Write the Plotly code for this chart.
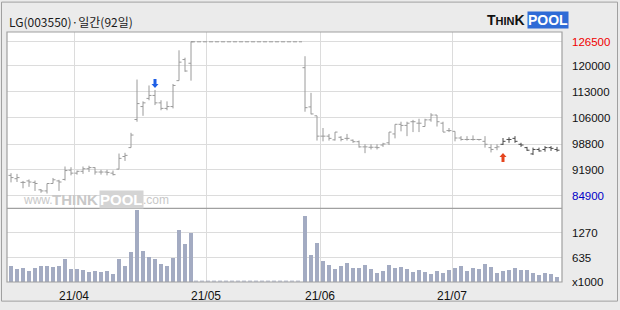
import plotly.graph_objects as go

# ---------------- data ----------------
N = 92
open_ = [90400, 89500, 88500, 88900, 88500, 86500, 86200, 88200, 88900, 89300,
         91800, 91000, 91500, 92200, 92500, 91300, 91300, 91000, 92100, 95500,
         97900, 105500, 109000, 111200, 112000, 110000, 108500, 109000, 116000, 121700,
         120700] + [None] * 18 + [
         119500, 108900, 106500, 101000, 101000, 100000, 100700, 100400, 99900, 99500,
         98100, 98000, 98000, 98600, 99200, 101600, 104200, 103900, 104900, 104500,
         103600, 105400, 106700, 104500, 102500, 102300, 100500, 100100, 100100, 100100,
         99600, 97900, 97900, 98800, 100100, 100400, 98800, 97900, 96200, 97400,
         97400, 97900, 97400]
high = [91000, 90800, 88900, 89300, 89000, 86700, 88200, 89700, 89200, 92800,
        92600, 91700, 92800, 93000, 92600, 91900, 91900, 91700, 96300, 96500,
        101900, 116300, 110400, 114700, 113500, 110700, 110400, 115100, 124200, 122200,
        126500] + [None] * 18 + [
        122600, 112700, 106500, 103200, 101600, 102100, 101000, 101600, 100100, 99800,
        98800, 98800, 98800, 99200, 102100, 104200, 104900, 104900, 105400, 105700,
        105700, 107200, 106700, 104900, 103200, 102300, 101000, 101000, 101200, 100100,
        101000, 98800, 98800, 100500, 100700, 101000, 99200, 98100, 97900, 97900,
        98300, 98300, 98100]
low = [88500, 88600, 86900, 87300, 86200, 85700, 85500, 88200, 86200, 89000,
       90400, 90600, 90800, 91300, 90600, 90600, 90400, 90400, 92100, 94300,
       97900, 104900, 106500, 110700, 109400, 108000, 108000, 108500, 116000, 118400,
       116000] + [None] * 18 + [
       107600, 106900, 99800, 99600, 99800, 99800, 99600, 99800, 99200, 97900,
       96400, 97400, 97400, 98100, 98600, 100400, 102300, 101000, 102100, 102100,
       103600, 104900, 103600, 102100, 102100, 99600, 99800, 99800, 99800, 99800,
       97900, 96600, 97200, 98600, 99200, 99200, 98100, 97000, 95900, 96800,
       96800, 97000, 96800]
close = [89800, 89800, 88500, 88600, 88200, 86200, 88200, 89200, 88600, 91700,
         91000, 91500, 92200, 92500, 91300, 91300, 91200, 90600, 95000, 95800,
         101300, 109800, 110000, 112000, 110000, 108500, 109000, 114700, 121000, 118600,
         126500] + [None] * 18 + [
         108700, 107000, 101000, 101000, 100400, 102100, 100100, 100400, 99500, 98100,
         98100, 98000, 97900, 98900, 102100, 104200, 103900, 104500, 104900, 104500,
         105400, 106700, 104900, 102100, 102500, 100500, 100100, 100100, 100100, 100100,
         98800, 97400, 98100, 99600, 100100, 99600, 98600, 97200, 97400, 97000,
         97900, 97700, 97200]
volume = [414, 330, 363, 279, 363, 414, 414, 389, 414, 584,
          330, 330, 305, 237, 262, 237, 262, 203, 584, 414,
          770, 1854, 787, 643, 584, 457, 414, 618, 1346, 965,
          1245] + [None] * 18 + [
          1702, 686, 1008, 533, 432, 330, 406, 474, 363, 363,
          432, 330, 220, 279, 432, 363, 381, 330, 245, 305,
          245, 195, 279, 228, 305, 363, 406, 279, 363, 330,
          457, 389, 228, 279, 305, 363, 305, 305, 220, 178,
          220, 195, 127]

month_labels = ["21/04", "21/05", "21/06", "21/07"]
month_first_bar = [11, 33, 52, 74]
price_ticks = [84900, 91900, 98800, 106000, 113000, 120000, 126500]
vol_ticks = [0, 635, 1270]
vol_ticktext = ["x1000", "635", "1270"]
sell_signal_bar = 24
buy_signal_bar = 82

idx = list(range(N))
halted = [i for i in idx if close[i] is None]
last_before_halt = halted[0] - 1

GRAY = "#9A9A9A"
DARK = "#4A4A4A"
VOLC = "#A3ABC2"
GRID = "#DCDCDC"
BORDER = "#A0A0A0"
FONT = "Liberation Sans"

fig = go.Figure()

def sub(lst, ids):
    return [lst[i] for i in ids]

normal = [i for i in idx if close[i] is not None and i < buy_signal_bar]
recent = [i for i in idx if close[i] is not None and i >= buy_signal_bar]
for ids, col in ((normal, GRAY), (recent, DARK)):
    fig.add_trace(go.Ohlc(
        x=ids, open=sub(open_, ids), high=sub(high, ids), low=sub(low, ids), close=sub(close, ids),
        increasing=dict(line=dict(color=col, width=1)),
        decreasing=dict(line=dict(color=col, width=1)),
        tickwidth=0.42, xaxis="x", yaxis="y", showlegend=False, hoverinfo="skip"))

# halted period: dashed flat line at last price
hx = [last_before_halt] + halted + [halted[-1] + 0.5]
fig.add_trace(go.Scatter(x=hx, y=[close[last_before_halt]] * len(hx), mode="lines",
                         line=dict(color=GRAY, width=1, dash="4px,2px"),
                         xaxis="x", yaxis="y", showlegend=False, hoverinfo="skip"))

# volume
vids = [i for i in idx if volume[i] is not None]
fig.add_trace(go.Bar(x=vids, y=sub(volume, vids), marker=dict(color=VOLC, line=dict(width=0)),
                     width=0.75, xaxis="x2", yaxis="y2", showlegend=False, hoverinfo="skip"))
vx = [halted[0] - 0.5, halted[-1] + 0.5]
fig.add_trace(go.Scatter(x=vx, y=[22, 22], mode="lines",
                         line=dict(color=VOLC, width=1, dash="4px,2px"),
                         xaxis="x2", yaxis="y2", showlegend=False, hoverinfo="skip"))

xr = [-0.667, 91.833]
grid_x = [b - 0.5 for b in month_first_bar]
pdom = [75 / 255, 1]
vdom = [0, 75 / 255]

price_text = []
for v in price_ticks:
    if v == max(price_ticks):
        price_text.append(f"<span style='color:#F00000'>{v}</span>")
    elif v == min(price_ticks):
        price_text.append(f"<span style='color:#0000C8'>{v}</span>")
    else:
        price_text.append(str(v))

fig.update_layout(
    width=620, height=310,
    margin=dict(l=7, r=58, t=32, b=23),
    paper_bgcolor="#EBEBEB", plot_bgcolor="#FFFFFF",
    font=dict(family=FONT, size=11, color="#111111"),
    bargap=0,
    xaxis=dict(domain=[0, 1], range=xr, anchor="y", tickvals=grid_x, ticktext=[""] * 4,
               showgrid=True, gridcolor=GRID, gridwidth=1, showticklabels=False,
               zeroline=False, showline=False, rangeslider=dict(visible=False), fixedrange=True),
    xaxis2=dict(domain=[0, 1], range=xr, anchor="y2", tickvals=grid_x, ticktext=month_labels,
                showgrid=True, gridcolor=GRID, gridwidth=1, zeroline=False, showline=False,
                tickfont=dict(size=12, family=FONT, color="#111111"), ticks="", ticklabelstandoff=5,
                rangeslider=dict(visible=False)),
    yaxis=dict(domain=pdom, range=[81455, 129150], side="right", anchor="x",
               tickvals=price_ticks, ticktext=price_text, showgrid=True, gridcolor=GRID,
               zeroline=False, showline=False, ticks="", ticklabelstandoff=9,
               tickfont=dict(size=11.5, family=FONT, color="#111111")),
    yaxis2=dict(domain=vdom, range=[0, 1905], side="right", anchor="x2",
                tickvals=vol_ticks, ticktext=vol_ticktext, showgrid=True, gridcolor=GRID,
                zeroline=False, showline=False, ticks="", ticklabelstandoff=9,
                tickfont=dict(size=11.5, family=FONT, color="#111111")),
)

# signal arrows: pixel-sized paths anchored on the bar's high / low
down_arrow = "M -1.5 11 L 1.5 11 L 1.5 6 L 3.5 6 L 0 2 L -3.5 6 L -1.5 6 Z"
up_arrow = "M -1.5 -17 L 1.5 -17 L 1.5 -12 L 3.5 -12 L 0 -8 L -3.5 -12 L -1.5 -12 Z"

shapes = [
    dict(type="rect", xref="paper", yref="paper", x0=-0.0099, x1=1.1, y0=-0.0765, y1=1.1196,
         line=dict(color=BORDER, width=1), fillcolor="rgba(0,0,0,0)", layer="below"),
    dict(type="rect", xref="paper", yref="paper", x0=0, x1=1, y0=0, y1=1,
         line=dict(color=BORDER, width=1.2), fillcolor="rgba(0,0,0,0)", layer="above"),
    dict(type="line", xref="paper", yref="paper", x0=0, x1=1, y0=pdom[0], y1=pdom[0],
         line=dict(color=BORDER, width=1.2), layer="above"),
    dict(type="path", xref="x", yref="y", xsizemode="pixel", ysizemode="pixel",
         xanchor=sell_signal_bar, yanchor=high[sell_signal_bar], path=down_arrow,
         fillcolor="#1E5FE6", line=dict(width=0), layer="above"),
    dict(type="path", xref="x", yref="y", xsizemode="pixel", ysizemode="pixel",
         xanchor=buy_signal_bar, yanchor=low[buy_signal_bar], path=up_arrow,
         fillcolor="#E5451E", line=dict(width=0), layer="above"),
]
fig.update_layout(shapes=shapes)

def px(xpix):
    return (xpix - 7) / 555

WM = "#C8C8C8"
ann = [
    dict(text="LG(003550)·일간(92일)", xref="paper", yref="paper", x=0, y=1.0, yshift=11,
         xanchor="left", yanchor="middle", showarrow=False,
         font=dict(family="Noto Sans CJK KR", size=12, color="#1A1A1A")),
    # logo
    dict(text="<b>T<span style='font-size:11px'>HIN</span>K</b>", xref="paper", yref="paper",
         x=px(527), y=1.0, yshift=12, xanchor="right", yanchor="middle", showarrow=False,
         font=dict(family="Liberation Sans", size=14, color="#111111")),
    dict(text="<b>POOL</b>", xref="paper", yref="paper", x=px(527), y=1.0, yshift=12,
         xanchor="left", yanchor="middle", showarrow=False, bgcolor="#2F6BD6", borderpad=0,
         font=dict(family="Liberation Sans", size=14, color="#FFFFFF")),
    # watermark
    dict(text="www.", xref="paper", yref="paper", x=px(21), y=pdom[0], yshift=8,
         xanchor="left", yanchor="middle", showarrow=False,
         font=dict(family="Liberation Sans", size=12, color=WM)),
    dict(text="<b>THINK</b>", xref="paper", yref="paper", x=px(50), y=pdom[0], yshift=9,
         xanchor="left", yanchor="middle", showarrow=False,
         font=dict(family="Liberation Sans", size=15, color=WM)),
    dict(text="<b>POOL</b>", xref="paper", yref="paper", x=px(99), y=pdom[0], yshift=9,
         xanchor="left", yanchor="middle", showarrow=False, bgcolor="#D4D4D4", borderpad=0,
         font=dict(family="Liberation Sans", size=15, color="#FFFFFF")),
    dict(text=".com", xref="paper", yref="paper", x=px(141), y=pdom[0], yshift=8,
         xanchor="left", yanchor="middle", showarrow=False,
         font=dict(family="Liberation Sans", size=12, color=WM)),
]
fig.update_layout(annotations=ann)

fig.write_html("out.html")
